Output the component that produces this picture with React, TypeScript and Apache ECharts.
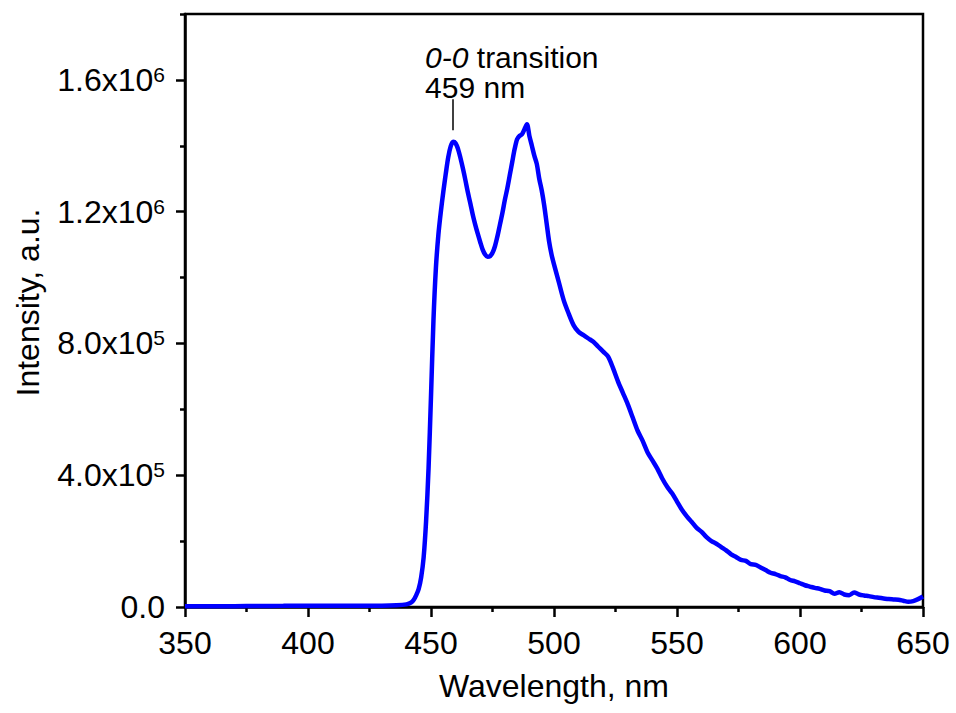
import React, { useEffect, useRef } from "react";
import * as echarts from "echarts";

// Wavelength (nm) and emission intensity (a.u.)
const wavelength = [
  350, 360, 370, 380, 390, 400, 410, 420, 430, 436, 440, 442, 443, 444, 445, 446, 447, 448, 449, 450,
  451, 452, 453, 454, 455, 456, 457, 458, 459, 460, 461, 462, 463, 464, 465, 466, 467, 468, 469, 470,
  471, 472, 473, 474, 475, 476, 477, 478, 479, 480, 481, 482, 483, 484, 485, 486, 487, 488, 489, 490,
  491, 492, 493, 494, 495, 496, 497, 498, 499, 500, 502, 504, 506, 508, 510, 512, 514, 516, 518, 520,
  522, 524, 526, 528, 530, 532, 534, 536, 538, 540, 542, 544, 546, 548, 550, 552, 554, 556, 558, 560,
  562, 564, 566, 568, 570, 572, 574, 576, 578, 580, 582, 584, 586, 588, 590, 592, 594, 596, 598, 600,
  602, 604, 606, 608, 610, 612, 614, 616, 618, 620, 622, 624, 626, 628, 630, 632, 634, 636, 638, 640,
  642, 644, 646, 648, 650,
];
const intensityK = [
  2, 2, 2.5, 3, 3.5, 4, 4, 4, 4, 5, 8, 14, 22, 36, 55, 90, 150, 260, 420, 640,
  870, 1030, 1130, 1200, 1260, 1315, 1365, 1398, 1412, 1408, 1390, 1362, 1330, 1295, 1258, 1225, 1190, 1160, 1133, 1108,
  1085, 1070, 1063, 1065, 1075, 1095, 1125, 1160, 1195, 1235, 1270, 1310, 1350, 1390, 1420, 1430, 1435, 1450, 1465, 1430,
  1400, 1370, 1345, 1300, 1265, 1220, 1165, 1110, 1070, 1040, 985, 930, 890, 855, 835, 825, 815, 805, 790, 775,
  760, 725, 685, 650, 615, 575, 535, 505, 470, 445, 420, 390, 365, 345, 320, 295, 275, 258, 240, 228,
  212, 200, 192, 182, 172, 160, 152, 143, 140, 130, 128, 120, 112, 104, 100, 94, 90, 82, 78, 72,
  66, 62, 58, 55, 50, 48, 40, 45, 38, 36, 44, 38, 35, 33, 30, 28, 26, 24, 23, 22,
  19, 16, 18, 24, 32,
];

const yMajorTicks = [0, 400000, 800000, 1200000, 1600000];
const yMinorTicks = [200000, 600000, 1000000, 1400000, 1800000];

const annoPeak = 459;
const annoLineFrom = 1447000;
const annoLineTo = 1541000;
const annoTextAt = [447.6, 1713000];
const annoTitleItalic = "0-0";
const annoTitleRest = " transition";
const annoSub = "459 nm";

const FONT = "'Liberation Sans', Arial, Helvetica, sans-serif";
const FS = 32;
const AFS = 30;

function fmtY(v: number): string {
  if (v === 0) return "{m|0.0}";
  const e = Math.floor(Math.log10(v) + 1e-9);
  const m = (v / Math.pow(10, e)).toFixed(1);
  return `{m|${m}x10}{s|${e}}`;
}

export default function App() {
  const ref = useRef<HTMLDivElement>(null);
  useEffect(() => {
    if (!ref.current) return;
    const chart = echarts.init(ref.current, undefined, { renderer: "svg" });
    const axisLineStyle = { color: "#000", width: 2.5 };
    const option: any = {
      animation: false,
      backgroundColor: "#fff",
      grid: {
        left: 185,
        right: 33,
        top: 14,
        bottom: 106,
        show: true,
        borderColor: "#000",
        borderWidth: 2.5,
        backgroundColor: "transparent",
      },
      xAxis: {
        type: "value",
        min: 350,
        max: 650,
        interval: 50,
        axisLine: { show: true, onZero: false, lineStyle: axisLineStyle },
        axisTick: { show: true, inside: false, length: 10, lineStyle: axisLineStyle },
        minorTick: { show: true, splitNumber: 2, length: 5, lineStyle: axisLineStyle },
        splitLine: { show: false },
        minorSplitLine: { show: false },
        axisLabel: { fontSize: FS, color: "#000", fontFamily: FONT, margin: 20 },
        name: "Wavelength, nm",
        nameLocation: "middle",
        nameGap: 63,
        nameTextStyle: { fontSize: FS, color: "#000", fontFamily: FONT },
      },
      yAxis: [
        {
          type: "value",
          min: 0,
          max: 1800000,
          interval: 200000,
          axisLine: { show: true, onZero: false, lineStyle: axisLineStyle },
          axisTick: { show: true, inside: false, length: 9, lineStyle: axisLineStyle, customValues: yMajorTicks },
          splitLine: { show: false },
          axisLabel: {
            customValues: yMajorTicks,
            margin: 20,
            formatter: (v: number) => fmtY(v),
            rich: {
              m: { fontSize: FS, color: "#000", fontFamily: FONT },
              s: { fontSize: 21, color: "#000", fontFamily: FONT, verticalAlign: "top" },
            },
          },
          name: "Intensity, a.u.",
          nameLocation: "middle",
          nameRotate: 90,
          nameGap: 141,
          nameTextStyle: { fontSize: FS, color: "#000", fontFamily: FONT, padding: [0, 0, 0, 16] },
        },
        {
          type: "value",
          min: 0,
          max: 1800000,
          interval: 200000,
          position: "left",
          axisLine: { show: false },
          axisTick: { show: true, inside: false, length: 5, lineStyle: axisLineStyle, customValues: yMinorTicks },
          axisLabel: { show: false },
          splitLine: { show: false },
        },
      ],
      series: [
        {
          type: "line",
          data: wavelength.map((w, i) => [w, intensityK[i] * 1000]),
          showSymbol: false,
          smooth: 0.3,
          lineStyle: { color: "#0000ff", width: 4.5 },
          itemStyle: { color: "#0000ff" },
          markLine: {
            silent: true,
            symbol: "none",
            label: { show: false },
            lineStyle: { color: "#000", width: 1.5, type: "solid" },
            data: [[{ coord: [annoPeak, annoLineFrom] }, { coord: [annoPeak, annoLineTo] }]],
          },
        },
      ],
    };
    chart.setOption(option);
    const p = chart.convertToPixel({ gridIndex: 0 }, annoTextAt) as number[];
    chart.setOption({
      graphic: [
        {
          type: "text",
          x: p[0],
          y: p[1],
          style: {
            text: `{i|${annoTitleItalic}}{r|${annoTitleRest}}\n{r|${annoSub}}`,
            fill: "#000",
            fontSize: AFS,
            fontFamily: FONT,
            lineHeight: 30,
            rich: {
              i: { fontStyle: "italic", fontSize: AFS, fontFamily: FONT, lineHeight: 30, fill: "#000" },
              r: { fontSize: AFS, fontFamily: FONT, lineHeight: 30, fill: "#000" },
            },
          },
        },
      ],
    });
    return () => chart.dispose();
  }, []);
  return (
    <div
      ref={ref}
      style={{ position: "fixed", left: 0, top: 0, width: 956, height: 713, background: "#fff" }}
    />
  );
}
